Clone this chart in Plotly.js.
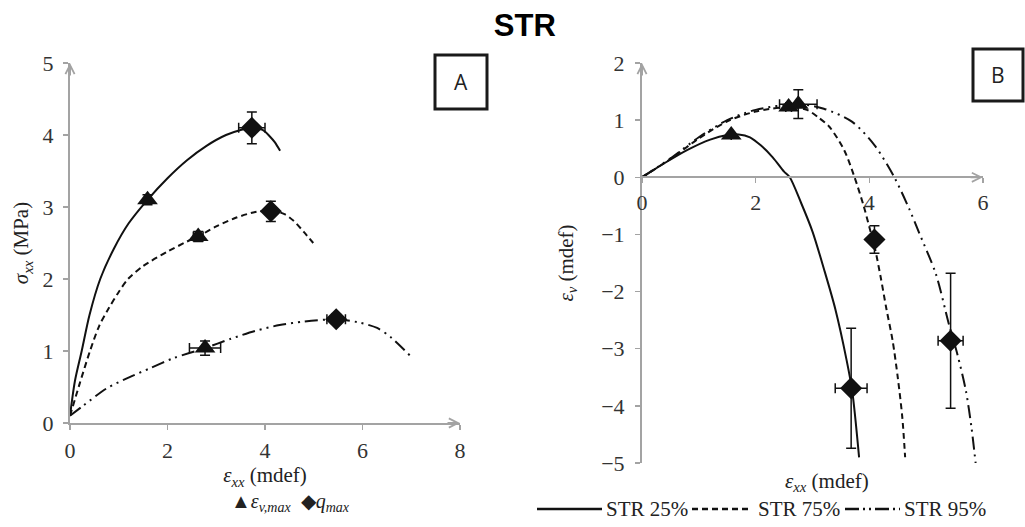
<!DOCTYPE html>
<html>
<head>
<meta charset="utf-8">
<script src="https://cdn.plot.ly/plotly-3.0.1.min.js"></script>
<style>
html,body{margin:0;padding:0;background:#fff;}
#chart{width:1025px;height:527px;}
#chart .main-svg text{font-family:"Liberation Serif" !important;}
#chart .main-svg .gtitle{font-family:"Liberation Sans" !important;}
#chart .main-svg .annotation[data-index="0"] text,
#chart .main-svg .annotation[data-index="1"] text{font-family:"Open Sans" !important;}
</style>
</head>
<body>
<div id="chart"></div>
<script>
// ---------- Panel A: sigma_xx vs eps_xx ----------
const a25x = [0, 0.1, 0.24, 0.4, 0.62, 0.9, 1.2, 1.59, 2.0, 2.4, 2.8, 3.2, 3.5, 3.73, 3.95, 4.1, 4.2, 4.31];
const a25y = [0.1, 0.58, 1.0, 1.5, 2.0, 2.42, 2.77, 3.10, 3.4, 3.65, 3.85, 4.0, 4.07, 4.10, 4.07, 3.98, 3.9, 3.78];
const a75x = [0, 0.2, 0.41, 0.6, 0.8, 1.0, 1.19, 1.5, 2.0, 2.4, 2.63, 3.0, 3.4, 3.8, 4.12, 4.4, 4.6, 4.8, 4.99];
const a75y = [0.1, 0.55, 1.0, 1.35, 1.6, 1.82, 2.0, 2.18, 2.38, 2.52, 2.59, 2.73, 2.85, 2.93, 2.95, 2.9, 2.8, 2.65, 2.5];
const a95x = [0, 0.27, 0.75, 1.2, 1.64, 2.12, 2.77, 3.3, 3.8, 4.3, 4.8, 5.46, 5.9, 6.3, 6.6, 6.97];
const a95y = [0.1, 0.24, 0.48, 0.63, 0.76, 0.9, 1.04, 1.17, 1.28, 1.36, 1.41, 1.44, 1.4, 1.32, 1.18, 0.94];
const aTriX = [1.59, 2.63, 2.77];
const aTriY = [3.10, 2.59, 1.04];
const aTriEx = [0.05, 0.10, 0.32];
const aTriEy = [0.07, 0.07, 0.10];
const aDiaX = [3.73, 4.12, 5.46];
const aDiaY = [4.10, 2.94, 1.44];
const aDiaEx = [0.27, 0.05, 0.19];
const aDiaEy = [0.22, 0.14, 0.07];

// ---------- Panel B: eps_v vs eps_xx ----------
const b25x = [0, 0.4, 0.8, 1.2, 1.5, 1.7, 1.9, 2.1, 2.3, 2.5, 2.6, 2.8, 3.0, 3.2, 3.4, 3.6, 3.7, 3.82];
const b25y = [0, 0.25, 0.48, 0.66, 0.74, 0.75, 0.7, 0.55, 0.35, 0.1, 0.0, -0.45, -0.95, -1.6, -2.3, -3.2, -3.75, -4.9];
const b75x = [0, 0.5, 1.0, 1.5, 2.0, 2.58, 2.9, 3.1, 3.3, 3.56, 3.74, 3.9, 4.0, 4.1, 4.2, 4.3, 4.41, 4.5, 4.58, 4.63];
const b75y = [0, 0.32, 0.68, 0.98, 1.15, 1.23, 1.18, 1.05, 0.88, 0.47, 0.0, -0.5, -0.87, -1.25, -1.75, -2.3, -2.86, -3.5, -4.2, -4.9];
const b95x = [0, 0.5, 1.0, 1.5, 2.0, 2.75, 3.2, 3.7, 4.1, 4.44, 4.7, 4.88, 5.17, 5.4, 5.55, 5.7, 5.8, 5.87];
const b95y = [0, 0.33, 0.7, 1.0, 1.18, 1.28, 1.2, 0.97, 0.55, 0.0, -0.55, -0.98, -1.69, -2.57, -3.1, -3.74, -4.4, -5.0];
const bTriX = [1.57, 2.58, 2.75];
const bTriY = [0.74, 1.23, 1.28];
const bTriEx = [0, 0.05, 0.33];
const bTriEy = [0, 0.05, 0.25];
const bDiaX = [3.68, 4.09, 5.43];
const bDiaY = [-3.69, -1.09, -2.86];
const bDiaEx = [0.28, 0.05, 0.22];
const bDiaEy = [1.05, 0.24, 1.18];

const seriesNames = ['STR 25%', 'STR 75%', 'STR 95%'];
const dashes = ['solid', '6px,4px', '13px,5px,2px,5px,2px,5px'];

const INK = '#111';
const AX = '#a3a3a3';
const SERIF = 'Liberation Serif';

function curve(x, y, i, xa, ya) {
  return {x: x, y: y, xaxis: xa, yaxis: ya, type: 'scatter', mode: 'lines', name: seriesNames[i],
    showlegend: false, hoverinfo: 'skip', cliponaxis: true,
    line: {color: INK, width: 2, dash: dashes[i], shape: 'spline', smoothing: 0.8}};
}
function pts(x, y, ex, ey, sym, xa, ya, nm) {
  return {x: x, y: y, xaxis: xa, yaxis: ya, type: 'scatter', mode: 'markers', name: nm, showlegend: false,
    marker: {symbol: sym, size: sym === 'diamond' ? 17 : 18, color: INK},
    error_x: {type: 'data', array: ex, visible: true, color: INK, thickness: 1.5, width: 5},
    error_y: {type: 'data', array: ey, visible: true, color: INK, thickness: 1.5, width: 5}};
}

const data = [
  curve(a25x, a25y, 0, 'x', 'y'), curve(a75x, a75y, 1, 'x', 'y'), curve(a95x, a95y, 2, 'x', 'y'),
  pts(aTriX, aTriY, aTriEx, aTriEy, 'triangle-up', 'x', 'y', 'εv,max'),
  pts(aDiaX, aDiaY, aDiaEx, aDiaEy, 'diamond', 'x', 'y', 'qmax'),
  curve(b25x, b25y, 0, 'x2', 'y2'), curve(b75x, b75y, 1, 'x2', 'y2'), curve(b95x, b95y, 2, 'x2', 'y2'),
  pts(bTriX, bTriY, bTriEx, bTriEy, 'triangle-up', 'x2', 'y2', 'εv,max'),
  pts(bDiaX, bDiaY, bDiaEx, bDiaEy, 'diamond', 'x2', 'y2', 'qmax')
];

const W = 1025, H = 527;
const px = v => v / W;
const py = v => (H - v) / H;

function axBase() {
  return {showgrid: false, zeroline: false, showline: true, linecolor: AX, linewidth: 2,
    ticks: 'outside', ticklen: 5, tickwidth: 1.5, tickcolor: AX,
    tickfont: {family: SERIF, size: 22, color: '#333'}, fixedrange: true};
}
function note(x, y, text, size, extra) {
  return Object.assign({xref: 'paper', yref: 'paper', x: px(x), y: py(y), text: text, showarrow: false,
    xanchor: 'center', yanchor: 'middle', font: {family: SERIF, size: size, color: '#222'}}, extra || {});
}
function arrow(xa, ya, x, y, ax, ay) {
  return {xref: xa, yref: ya, x: x, y: y, ax: ax, ay: ay, text: '', showarrow: true,
    arrowhead: 5, arrowsize: 0.9, arrowwidth: 2, arrowcolor: AX};
}

const layout = {
  width: W, height: H, margin: {l: 0, r: 0, t: 0, b: 0},
  font: {family: SERIF, size: 21, color: '#333'},
  paper_bgcolor: '#fff', plot_bgcolor: 'rgba(0,0,0,0)', showlegend: false,
  title: {text: '<b>STR</b>', x: 0.512, xanchor: 'center', y: py(25), yanchor: 'middle',
    font: {family: 'Liberation Sans', size: 31, color: '#000'}},
  xaxis: Object.assign(axBase(), {domain: [px(70), px(460)], range: [0, 8], tickvals: [0, 2, 4, 6, 8],
    anchor: 'y', ticklabelstandoff: 2,
    title: {text: '<i>ε</i><sub><i>xx</i></sub> (mdef)', standoff: 0, font: {family: SERIF, size: 21, color: '#222'}}}),
  yaxis: Object.assign(axBase(), {domain: [py(423), py(63)], range: [0, 5], tickvals: [0, 1, 2, 3, 4, 5],
    anchor: 'x', ticklabelstandoff: 5,
    title: {text: '<i>σ</i><sub><i>xx</i></sub> (MPa)', standoff: 8, font: {family: SERIF, size: 21, color: '#222'}}}),
  xaxis2: Object.assign(axBase(), {domain: [px(642), px(983)], range: [0, 6], tickvals: [0, 2, 4, 6],
    anchor: 'free', position: py(177), ticklabelstandoff: 1}),
  yaxis2: Object.assign(axBase(), {domain: [py(463), py(63)], range: [-5, 2], tickvals: [-5, -4, -3, -2, -1, 0, 1, 2],
    anchor: 'x2', ticklabelstandoff: 6,
    title: {text: '<i>ε</i><sub><i>v</i></sub> (mdef)', standoff: 22, font: {family: SERIF, size: 21, color: '#222'}}}),
  shapes: [
    {type: 'rect', xref: 'paper', yref: 'paper', x0: px(435), x1: px(487), y0: py(109), y1: py(55), line: {color: '#1a1a1a', width: 3}},
    {type: 'rect', xref: 'paper', yref: 'paper', x0: px(973), x1: px(1023), y0: py(101), y1: py(49), line: {color: '#1a1a1a', width: 3}},
    {type: 'line', xref: 'paper', yref: 'paper', x0: px(537), x1: px(602), y0: py(509), y1: py(509), line: {color: INK, width: 2.5, dash: dashes[0]}},
    {type: 'line', xref: 'paper', yref: 'paper', x0: px(692), x1: px(752), y0: py(509), y1: py(509), line: {color: INK, width: 2.5, dash: dashes[1]}},
    {type: 'line', xref: 'paper', yref: 'paper', x0: px(845), x1: px(900), y0: py(509), y1: py(509), line: {color: INK, width: 2.5, dash: '14px,4px,2px,4px,2px,4px'}}
  ],
  annotations: [
    note(461, 82, 'A', 21, {font: {family: 'Open Sans', size: 21, color: '#222'}}),
    note(998, 75, 'B', 21, {font: {family: 'Open Sans', size: 21, color: '#222'}}),
    note(290, 502, '▲<i>ε</i><sub><i>v,max</i></sub>  ◆<i>q</i><sub><i>max</i></sub>', 20),
    note(827, 482, '<i>ε</i><sub><i>xx</i></sub> (mdef)', 21),
    note(604, 509, seriesNames[0], 21, {xanchor: 'left'}),
    note(756, 509, seriesNames[1], 21, {xanchor: 'left'}),
    note(902, 509, seriesNames[2], 21, {xanchor: 'left'}),
    arrow('x', 'y', 8, 0, -14, 0),
    arrow('x', 'y', 0, 5, 0, 14),
    arrow('x2', 'y2', 6, 0, -14, 0),
    arrow('x2', 'y2', 0, 2, 0, 14)
  ]
};

Plotly.newPlot('chart', data, layout, {displayModeBar: false, staticPlot: true});
</script>
</body>
</html>
